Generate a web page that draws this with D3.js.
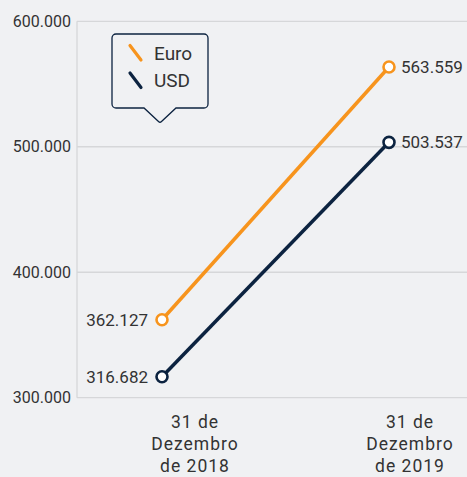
<!DOCTYPE html>
<html>
<head>
<meta charset="utf-8">
<script src="https://cdn.jsdelivr.net/npm/d3@7"></script>
<style>
  html, body { margin: 0; padding: 0; background: #f0f1f3; }
  svg { display: block; font-family: Roboto, sans-serif; }
</style>
</head>
<body>
<svg id="chart" width="467" height="477"></svg>
<script>
const categories = ["2018", "2019"];
const categoryLabels = [["31 de", "Dezembro", "de 2018"], ["31 de", "Dezembro", "de 2019"]];
const seriesNames = ["Euro", "USD"];
const euroValues = [362127, 563559];
const usdValues = [316682, 503537];
const yTicks = [300000, 400000, 500000, 600000];
const colors = { Euro: "#f7941d", USD: "#0c2340" };

(function () {
const series = [
  { name: "Euro", values: euroValues },
  { name: "USD", values: usdValues }
];

const locale = d3.formatLocale({ decimal: ",", thousands: ".", grouping: [3], currency: ["", ""] });
const fmt = locale.format(",d");

const svg = d3.select("#chart");
const W = 467, H = 477;
const pLeft = 77, pRight = 467, pTop = 21.3, pBottom = 397.7;

svg.append("rect").attr("width", W).attr("height", H).attr("fill", "#f0f1f3");

const y = d3.scaleLinear().domain([300000, 600000]).range([pBottom, pTop]);
const x = d3.scalePoint().domain(categories).range([162, 389]);
const xl = d3.scalePoint().domain(categories).range([195, 410]);

// gridlines
svg.append("g").selectAll("line").data(yTicks).join("line")
  .attr("x1", pLeft).attr("x2", pRight)
  .attr("y1", d => y(d)).attr("y2", d => y(d))
  .attr("stroke", "#d6d7d9").attr("stroke-width", 1.3);
svg.append("line").attr("x1", pLeft).attr("x2", pLeft).attr("y1", pTop).attr("y2", pBottom)
  .attr("stroke", "#d6d7d9").attr("stroke-width", 1.3);

// y tick labels
svg.append("g").selectAll("text").data(yTicks).join("text")
  .attr("x", 71).attr("y", d => y(d)).attr("dy", "0.35em")
  .attr("text-anchor", "end").attr("font-size", 16).attr("fill", "#333")
  .text(d => fmt(d));

// x labels
const xg = svg.append("g").selectAll("text").data(categories).join("text")
  .attr("text-anchor", "middle").attr("font-size", 17.5).attr("letter-spacing", 1)
  .attr("fill", "#333");
xg.each(function(d, i) {
  const t = d3.select(this);
  categoryLabels[i].forEach((ln, j) => {
    t.append("tspan").attr("x", xl(d)).attr("y", 428 + j * 21.8).text(ln);
  });
});

// lines
const line = d3.line().x((d, i) => x(categories[i])).y(d => y(d));
svg.append("g").selectAll("path").data(series).join("path")
  .attr("d", s => line(s.values))
  .attr("fill", "none").attr("stroke", s => colors[s.name]).attr("stroke-width", 3.5);

// points and labels
series.forEach(s => {
  const g = svg.append("g");
  g.selectAll("circle").data(s.values).join("circle")
    .attr("cx", (d, i) => x(categories[i])).attr("cy", d => y(d)).attr("r", 5.5)
    .attr("fill", "#fff").attr("stroke", colors[s.name]).attr("stroke-width", 2.6);
  g.selectAll("text").data(s.values).join("text")
    .attr("x", (d, i) => i === 0 ? x(categories[i]) - 14 : x(categories[i]) + 12)
    .attr("y", d => y(d)).attr("dy", "0.35em")
    .attr("text-anchor", (d, i) => i === 0 ? "end" : "start")
    .attr("font-size", 17).attr("fill", "#333")
    .text(d => fmt(d));
});

// legend
const bx0 = 112, bx1 = 208, by0 = 34, by1 = 108, r = 4, tipX = 160, tipY = 123, pb0 = 144, pb1 = 176;
const p = d3.path();
p.moveTo(bx0 + r, by0);
p.lineTo(bx1 - r, by0);
p.arcTo(bx1, by0, bx1, by0 + r, r);
p.lineTo(bx1, by1 - r);
p.arcTo(bx1, by1, bx1 - r, by1, r);
p.lineTo(pb1, by1);
p.lineTo(tipX + 1.5, tipY - 1.5);
p.quadraticCurveTo(tipX, tipY, tipX - 1.5, tipY - 1.5);
p.lineTo(pb0, by1);
p.lineTo(bx0 + r, by1);
p.arcTo(bx0, by1, bx0, by1 - r, r);
p.lineTo(bx0, by0 + r);
p.arcTo(bx0, by0, bx0 + r, by0, r);
p.closePath();
svg.append("path").attr("d", p.toString()).attr("fill", "#f0f1f3")
  .attr("stroke", "#0c2340").attr("stroke-width", 1.3);

const lg = svg.append("g").selectAll("g").data(seriesNames).join("g")
  .attr("transform", (d, i) => `translate(0, ${i * 27.5})`);
lg.append("line").attr("x1", 130).attr("y1", 45.5).attr("x2", 141).attr("y2", 60)
  .attr("stroke", d => colors[d]).attr("stroke-width", 3.2).attr("stroke-linecap", "round");
lg.append("text").attr("x", 154).attr("y", 59.5).attr("font-size", 19).attr("fill", "#333")
  .text(d => d);
})();
</script>
</body>
</html>
